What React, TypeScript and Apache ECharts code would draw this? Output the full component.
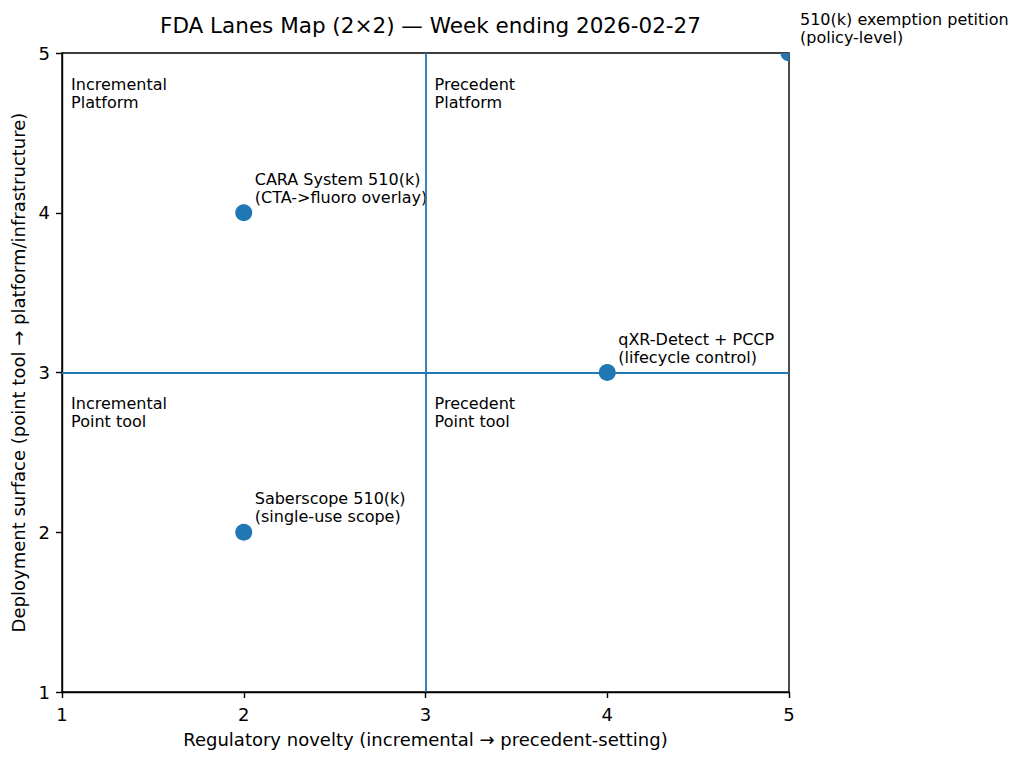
import React, { useEffect, useRef } from "react";
import * as echarts from "echarts";

const titleText = "FDA Lanes Map (2×2) — Week ending 2026-02-27";
const xAxisName = "Regulatory novelty (incremental → precedent-setting)";
const yAxisName = "Deployment surface (point tool → platform/infrastructure)";

const pointNames = [
  "CARA System 510(k)\n(CTA->fluoro overlay)",
  "Saberscope 510(k)\n(single-use scope)",
  "qXR-Detect + PCCP\n(lifecycle control)",
  "510(k) exemption petition\n(policy-level)",
];
const pointX = [2, 2, 4, 5];
const pointY = [4, 2, 3, 5];

const quadrantLabels = [
  "Incremental\nPlatform",
  "Precedent\nPlatform",
  "Incremental\nPoint tool",
  "Precedent\nPoint tool",
];
const quadrantX = [1.05, 3.05, 1.05, 3.05];
const quadrantY = [4.85, 4.85, 2.85, 2.85];

const splitX = 3;
const splitY = 3;
const axisMin = 1;
const axisMax = 5;

const FONT = "DejaVu Sans";
const BLUE = "#1f77b4";

export default function App() {
  const ref = useRef<HTMLDivElement>(null);
  useEffect(() => {
    if (!ref.current) return;
    const chart = echarts.init(ref.current, null, { renderer: "svg" });
    const pts = pointX.map((x, i) => [x, pointY[i], pointNames[i]]);
    const quads = quadrantX.map((x, i) => [x, quadrantY[i], quadrantLabels[i]]);
    const axisCommon = {
      type: "value",
      min: axisMin,
      max: axisMax,
      interval: 1,
      nameLocation: "middle",
      nameTextStyle: { fontFamily: FONT, fontSize: 18, color: "#000" },
      axisLine: { show: true, lineStyle: { color: "#000", width: 1.4 } },
      axisTick: { show: true, inside: false, length: 6, lineStyle: { color: "#000", width: 1.4 } },
      axisLabel: { fontFamily: FONT, fontSize: 18, color: "#000" },
      splitLine: { show: false },
    };
    const labelBase = {
      show: true,
      fontFamily: FONT,
      fontSize: 16,
      lineHeight: 18,
      color: "#000",
      opacity: 1,
      textBorderWidth: 0,
      formatter: (p: any) => p.value[2],
    };
    chart.setOption({
      animation: false,
      backgroundColor: "#fff",
      title: {
        text: titleText,
        left: 425.5,
        top: 9,
        textAlign: "center",
        textStyle: { fontFamily: FONT, fontSize: 21.5, fontWeight: "normal", color: "#000" },
      },
      grid: {
        left: 62,
        right: 235,
        top: 53,
        bottom: 70,
        show: true,
        borderColor: "#000",
        borderWidth: 1.4,
        containLabel: false,
        outerBoundsMode: "none",
      },
      xAxis: {
        ...axisCommon,
        name: xAxisName,
        nameGap: 38,
        axisLabel: { ...axisCommon.axisLabel, margin: 13 },
      },
      yAxis: {
        ...axisCommon,
        name: yAxisName,
        nameGap: 33,
        axisLabel: { ...axisCommon.axisLabel, margin: 12 },
      },
      series: [
        {
          type: "line",
          data: [],
          silent: true,
          z: 1,
          markLine: {
            silent: true,
            symbol: ["none", "none"],
            label: { show: false },
            lineStyle: { color: BLUE, width: 1.8, type: "solid" },
            data: [{ xAxis: splitX }, { yAxis: splitY }],
          },
        },
        {
          type: "custom",
          clip: true,
          z: 3,
          data: pts,
          renderItem: (params: any, api: any) => {
            const c = api.coord([api.value(0), api.value(1)]);
            return {
              type: "circle",
              shape: { cx: c[0], cy: c[1], r: 8.5 },
              style: { fill: BLUE },
            };
          },
        },
        {
          type: "scatter",
          clip: false,
          z: 4,
          symbolSize: 17,
          silent: true,
          itemStyle: { color: "rgba(0,0,0,0)" },
          emphasis: { disabled: true },
          data: pts,
          label: {
            ...labelBase,
            position: [19.5, 2],
            align: "left",
            verticalAlign: "bottom",
          },
        },
        {
          type: "scatter",
          clip: false,
          z: 4,
          symbolSize: 0,
          silent: true,
          emphasis: { disabled: true },
          data: quads,
          label: {
            ...labelBase,
            position: [0, -1.5],
            align: "left",
            verticalAlign: "top",
          },
        },
      ],
    });
    return () => chart.dispose();
  }, []);
  return (
    <div
      ref={ref}
      style={{ position: "absolute", left: 0, top: 0, width: 1024, height: 762 }}
    />
  );
}
